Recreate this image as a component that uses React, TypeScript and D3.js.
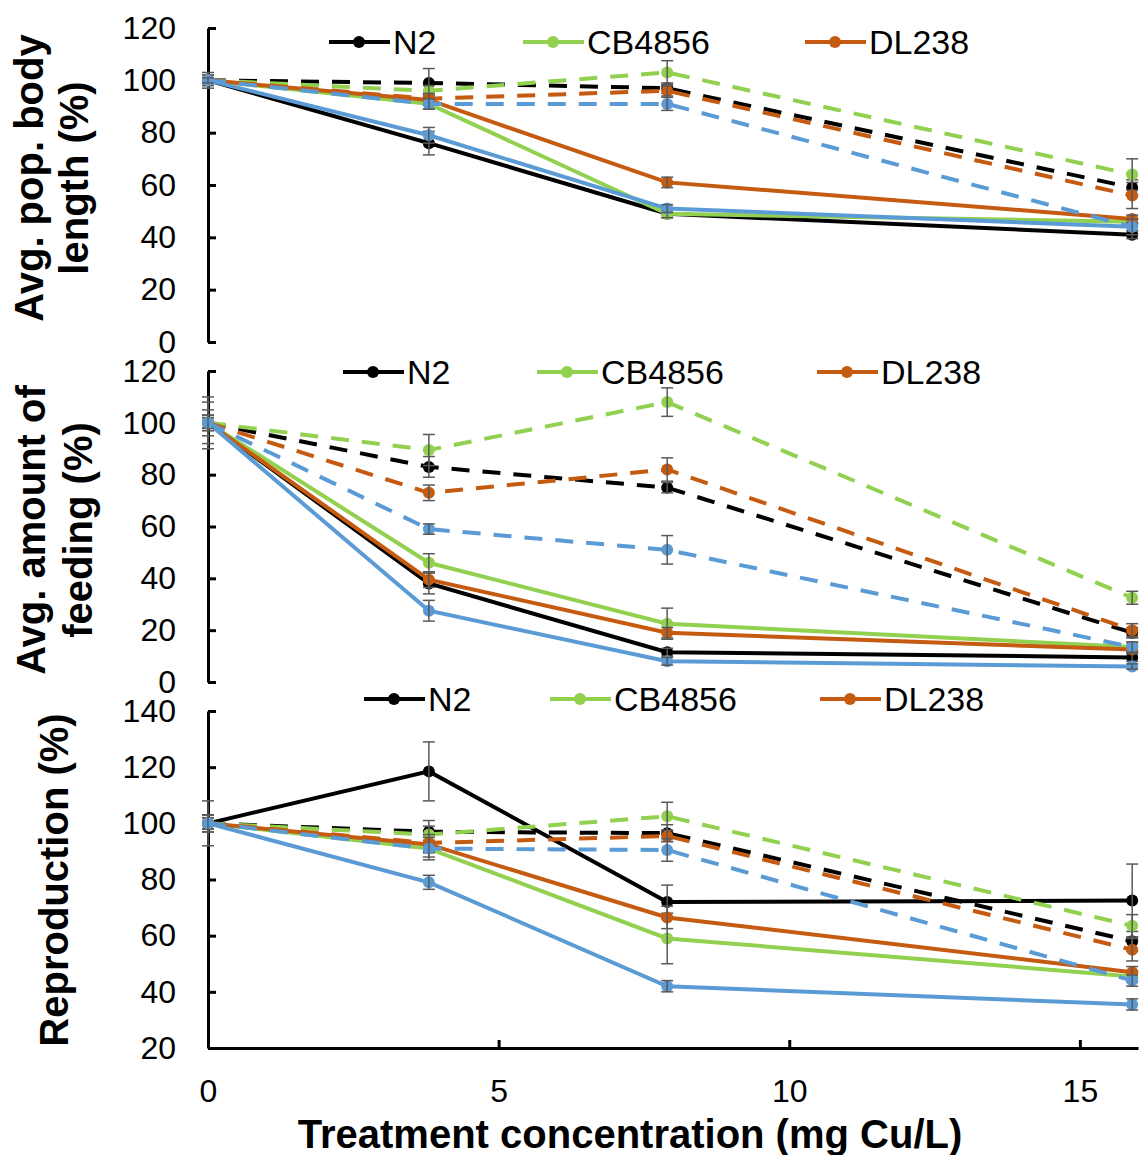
import React, { useEffect, useRef } from 'react';
import * as d3 from 'd3';

// Concentrations (mg Cu/L) and strains
const concentrations = [0, 3.8, 7.9, 15.9];
const strains = ['N2', 'CB4856', 'DL238', 'Strain 4'];
const legendStrains = ['N2', 'CB4856', 'DL238'];
const strainColors = ['#000000', '#92D050', '#C55A11', '#5B9BD5'];

// Body length (%), rows follow strains
const lengthSolid = [
  [100, 76, 49, 41],
  [100, 91, 49, 46],
  [100, 92.5, 61, 47],
  [100, 79, 51, 44],
];
const lengthSolidErr = [
  [2, 4.5, 1.5, 1.5],
  [1, 2, 1.5, 1],
  [1, 2, 2, 1.5],
  [1, 3, 1.5, 1.5],
];
const lengthDashed = [
  [100, 99, 97, 59],
  [100, 96, 103, 64],
  [100, 93, 96, 56],
  [100, 91, 91, 44],
];
const lengthDashedErr = [
  [3, 5.5, 2, 3],
  [2, 2, 4.5, 6],
  [1, 2, 2, 5],
  [1, 2, 2.5, 3],
];

// Feeding (%)
const feedingSolid = [
  [100, 38, 11.5, 9.5],
  [100, 46, 22.5, 13.5],
  [100, 39.5, 19, 12.5],
  [100, 27.5, 8, 6],
];
const feedingSolidErr = [
  [3, 4, 1.5, 1.5],
  [2, 3.5, 6, 1.5],
  [2, 3, 2, 1.5],
  [2, 4, 1.5, 1],
];
const feedingDashed = [
  [100, 83, 75, 19],
  [100, 89.5, 108, 32.5],
  [100, 73, 82, 20],
  [100, 59, 51, 13.5],
];
const feedingDashedErr = [
  [8, 4, 2, 2],
  [10, 6, 5.5, 2.5],
  [5, 3, 4.5, 2.5],
  [3, 2, 5.5, 2],
];

// Reproduction (%)
const reproSolid = [
  [100, 118.5, 72, 72.5],
  [100, 91, 59, 45.5],
  [100, 92.5, 66.5, 47],
  [100, 79, 42, 35.5],
];
const reproSolidErr = [
  [3, 10.5, 6, 13],
  [2, 3, 9, 2],
  [2, 3, 4, 2],
  [2, 2.5, 2, 2],
];
const reproDashed = [
  [100, 97, 96.5, 58],
  [100, 96, 102.5, 63.5],
  [100, 93, 95.5, 55],
  [100, 91, 90.5, 44],
];
const reproDashedErr = [
  [8, 4, 3, 3.5],
  [3, 3, 5, 4],
  [3, 3, 2, 4],
  [3, 4, 4, 2],
];

// Tick values and labels
const yTicksPercent = [0, 20, 40, 60, 80, 100, 120];
const yTicksRepro = [20, 40, 60, 80, 100, 120, 140];
const xTicks = [0, 5, 10, 15];
const lengthTitle = ['Avg. pop. body', 'length (%)'];
const feedingTitle = ['Avg. amount of', 'feeding (%)'];
const reproTitle = ['Reproduction (%)'];
const xTitle = 'Treatment concentration (mg Cu/L)';

const W = 1139;
const H = 1155;
const AXIS_X = 208;
const FONT = '"Liberation Sans", Arial, sans-serif';

// Layout of the three stacked panels
const panelLayout = [
  { yRange: [342, 28], titleX: [43, 88], titleY: 178, legendY: 42, legendX: [329, 523, 805] },
  { yRange: [682, 371], titleX: [45, 92], titleY: 530, legendY: 372, legendX: [343, 537, 817] },
  { yRange: [1048, 711], titleX: [68], titleY: 880, legendY: 699, legendX: [364, 550, 820] },
];

const panels = [
  { solid: lengthSolid, solidErr: lengthSolidErr, dashed: lengthDashed, dashedErr: lengthDashedErr, ticks: yTicksPercent, title: lengthTitle },
  { solid: feedingSolid, solidErr: feedingSolidErr, dashed: feedingDashed, dashedErr: feedingDashedErr, ticks: yTicksPercent, title: feedingTitle },
  { solid: reproSolid, solidErr: reproSolidErr, dashed: reproDashed, dashedErr: reproDashedErr, ticks: yTicksRepro, title: reproTitle },
];

const App = () => {
  const svgRef = useRef<SVGSVGElement>(null);

  useEffect(() => {
    const svg = d3.select(svgRef.current);
    svg.selectAll('*').remove();

    const x = d3.scaleLinear().domain([0, 16]).range([AXIS_X, 1138]);

    panels.forEach((panel, pi) => {
      const lay = panelLayout[pi];
      const ticks = panel.ticks;
      const y = d3.scaleLinear().domain([ticks[0], ticks[ticks.length - 1]]).range(lay.yRange);
      const g = svg.append('g');

      // Y axis, ticks pointing inward
      const yAxis = g.append('g')
        .attr('transform', `translate(${AXIS_X},0)`)
        .call(d3.axisLeft(y).tickValues(ticks).tickSizeInner(-8).tickSizeOuter(0).tickPadding(32));
      yAxis.select('.domain').attr('stroke', '#000').attr('stroke-width', 3);
      yAxis.selectAll('.tick line').attr('stroke', '#000').attr('stroke-width', 3);
      yAxis.selectAll('.tick text')
        .attr('font-family', FONT).attr('font-size', 32).attr('fill', '#000');

      // X axis only on the bottom panel
      if (pi === 2) {
        const xAxis = g.append('g')
          .attr('transform', `translate(0,${lay.yRange[0]})`)
          .call(d3.axisBottom(x).tickValues(xTicks).tickSizeInner(-8).tickSizeOuter(0).tickPadding(31));
        xAxis.select('.domain').attr('stroke', '#000').attr('stroke-width', 3);
        xAxis.selectAll('.tick line').attr('stroke', '#000').attr('stroke-width', 3);
        xAxis.selectAll('.tick text')
          .attr('font-family', FONT).attr('font-size', 32).attr('fill', '#000');
      }

      // Y title
      panel.title.forEach((t, li) => {
        g.append('text')
          .attr('transform', `translate(${lay.titleX[li]},${lay.titleY}) rotate(-90)`)
          .attr('text-anchor', 'middle')
          .attr('font-family', FONT)
          .attr('font-size', 40)
          .attr('font-weight', 'bold')
          .attr('fill', '#000')
          .text(t);
      });

      const line = d3.line<number>()
        .x((_, i) => x(concentrations[i]))
        .y(d => y(d));

      // Series: solid first, then dashed
      const sets = [
        { values: panel.solid, errs: panel.solidErr, dash: null },
        { values: panel.dashed, errs: panel.dashedErr, dash: '18 13' },
      ];
      sets.forEach(set => {
        set.values.forEach((vals, si) => {
          const color = strainColors[si];
          const sg = g.append('g').attr('class', `series ${strains[si]}`);
          sg.append('path')
            .attr('d', line(vals))
            .attr('fill', 'none')
            .attr('stroke', color)
            .attr('stroke-width', 4)
            .attr('stroke-dasharray', set.dash);
          sg.selectAll('circle')
            .data(vals)
            .enter().append('circle')
            .attr('cx', (_, i) => x(concentrations[i]))
            .attr('cy', d => y(d))
            .attr('r', 6)
            .attr('fill', color);
          // Error bars
          const errs = set.errs[si];
          vals.forEach((v, i) => {
            const cx = x(concentrations[i]);
            const y1 = y(v + errs[i]);
            const y2 = y(v - errs[i]);
            const eg = sg.append('g').attr('stroke', '#595959').attr('stroke-width', 1.5);
            eg.append('line').attr('x1', cx).attr('x2', cx).attr('y1', y1).attr('y2', y2);
            eg.append('line').attr('x1', cx - 6).attr('x2', cx + 6).attr('y1', y1).attr('y2', y1);
            eg.append('line').attr('x1', cx - 6).attr('x2', cx + 6).attr('y1', y2).attr('y2', y2);
          });
        });
      });

      // Legend
      legendStrains.forEach((name, li) => {
        const lx = lay.legendX[li];
        const ly = lay.legendY;
        const color = strainColors[strains.indexOf(name)];
        g.append('line')
          .attr('x1', lx).attr('x2', lx + 61)
          .attr('y1', ly).attr('y2', ly)
          .attr('stroke', color).attr('stroke-width', 4);
        g.append('circle').attr('cx', lx + 30).attr('cy', ly).attr('r', 6).attr('fill', color);
        g.append('text')
          .attr('x', lx + 64)
          .attr('y', ly + 12)
          .attr('font-family', FONT)
          .attr('font-size', 34)
          .attr('fill', '#000')
          .text(name);
      });
    });

    // X title
    svg.append('text')
      .attr('x', 630)
      .attr('y', 1148)
      .attr('text-anchor', 'middle')
      .attr('font-family', FONT)
      .attr('font-size', 40)
      .attr('font-weight', 'bold')
      .attr('fill', '#000')
      .text(xTitle);
  }, []);

  return (
    <svg
      ref={svgRef}
      width={W}
      height={H}
      style={{ position: 'absolute', left: 0, top: 0, background: '#fff' }}
    />
  );
};

export default App;
